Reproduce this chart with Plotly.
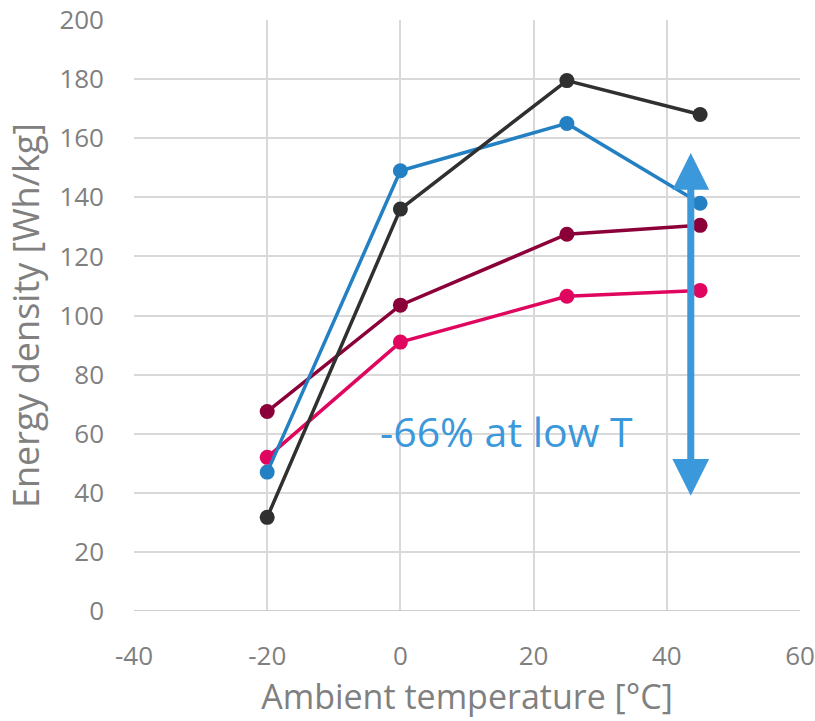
import plotly.graph_objects as go

temps = [-20, 0, 25, 45]
black_vals = [31.7, 136, 179.5, 168]
blue_vals = [47, 149, 165, 138]
darkred_vals = [67.5, 103.5, 127.5, 130.5]
pink_vals = [52, 91, 106.5, 108.5]
x_ticks = [-40, -20, 0, 20, 40, 60]
x_ticklabels = ["-40", "-20", "0", "20", "40", "60"]
y_ticks = list(range(0, 201, 20))

series = [
    ("Pink", pink_vals, "#E0065F"),
    ("Dark red", darkred_vals, "#8C0039"),
    ("Blue", blue_vals, "#2380C3"),
    ("Black", black_vals, "#303030"),
]

fig = go.Figure()
for name, vals, col in series:
    fig.add_trace(go.Scatter(x=temps, y=vals, mode="lines+markers", name=name,
                             line=dict(color=col, width=3.5),
                             marker=dict(color=col, size=15)))

arrow_x = 43.6
arrow_top = 155
arrow_bottom = 38.5
fig.add_annotation(x=arrow_x, y=arrow_top, ax=arrow_x, ay=arrow_bottom,
                   xref="x", yref="y", axref="x", ayref="y",
                   showarrow=True, arrowhead=2, startarrowhead=2, arrowside="end+start",
                   arrowsize=1.05, startarrowsize=1.05, arrowwidth=7, arrowcolor="#3A98DB", text="")
fig.add_annotation(x=16, y=61.0, xref="x", yref="y", text="-66% at low T", showarrow=False,
                   font=dict(family="Open Sans", size=41, color="#3A98DB"))

grey = "#808080"
fig.update_layout(
    width=815, height=721,
    margin=dict(l=134, r=15, t=20, b=110),
    paper_bgcolor="white", plot_bgcolor="white",
    showlegend=False,
    font=dict(family="Open Sans", color=grey),
    xaxis=dict(range=[-40, 60], tickvals=x_ticks, ticktext=x_ticklabels, showgrid=True,
               gridcolor="#D9D9D9", gridwidth=1.5, zeroline=False, showline=False,
               tickfont=dict(size=26, color=grey), ticks="", automargin=False,
               ticklabelstandoff=27,
               title=dict(text="Ambient temperature [°C]", font=dict(size=34, color=grey), standoff=2)),
    yaxis=dict(range=[0, 200], tickvals=y_ticks, showgrid=True,
               gridcolor="#D9D9D9", gridwidth=1.5, zeroline=False, showline=False,
               tickfont=dict(size=26, color=grey), ticks="", automargin=False,
               ticklabelstandoff=29,
               title=dict(text="Energy density [Wh/kg]", font=dict(size=36, color=grey), standoff=8)),
)
fig.add_shape(type="line", xref="paper", yref="y", x0=0, x1=1, y0=0, y1=0,
              line=dict(color="#BFBFBF", width=1.5))
fig.write_html("out.html")
